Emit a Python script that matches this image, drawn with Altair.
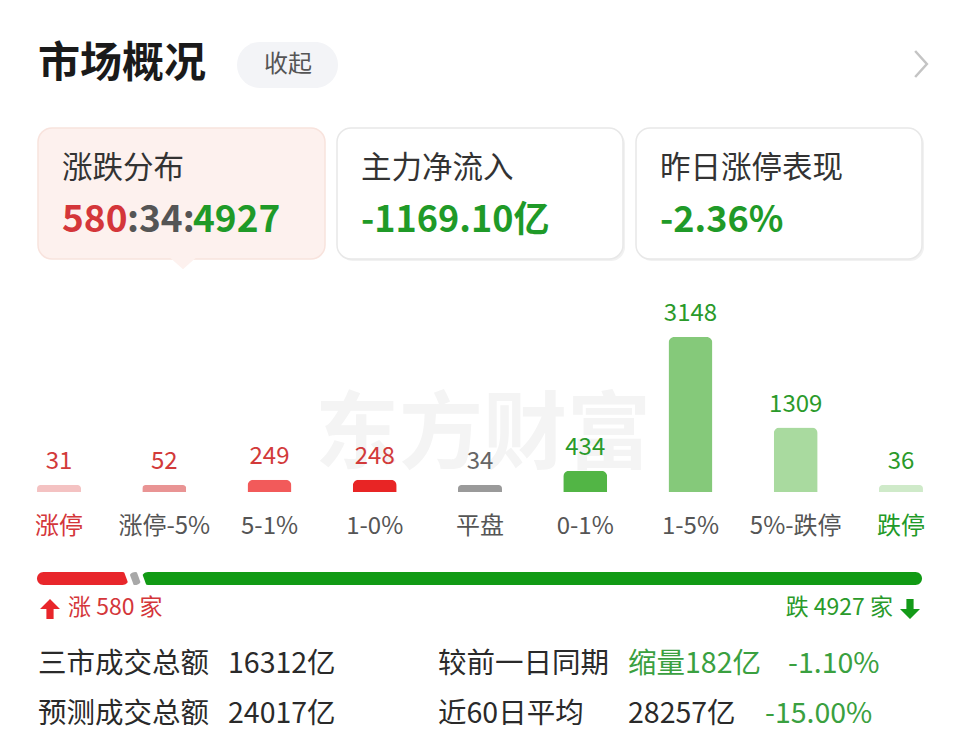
import altair as alt
import pandas as pd

# ---------------- data ----------------
CATEGORIES = ["涨停", "涨停-5%", "5-1%", "1-0%", "平盘", "0-1%", "1-5%", "5%-跌停", "跌停"]
COUNTS = [31, 52, 249, 248, 34, 434, 3148, 1309, 36]
GROUPS = ["limit_up", "up", "up", "up", "flat", "down", "down", "down", "limit_down"]

UP_COUNT = 580
FLAT_COUNT = 34
DOWN_COUNT = 4927

CARD_TITLES = ["涨跌分布", "主力净流入", "昨日涨停表现"]
NET_INFLOW = "-1169.10亿"
LIMIT_UP_PERF = "-2.36%"

SUMMARY_LABELS = ["三市成交总额", "预测成交总额"]
SUMMARY_VALUES = ["16312亿", "24017亿"]
COMPARE_LABELS = ["较前一日同期", "近60日平均"]
COMPARE_VALUES = ["缩量182亿", "28257亿"]
COMPARE_PCTS = ["-1.10%", "-15.00%"]

# ---------------- styles ----------------
FONT = "Noto Sans CJK SC"
RED = "#d4363a"
GREEN = "#1f9a28"
DARK = "#2a2a2a"
GRAY = "#555555"
BAR_COLORS = ["#f4c2c2", "#e99494", "#f25a5a", "#e82525", "#9a9a9a",
              "#52b545", "#85c97a", "#a9da9f", "#cfeac9"]


def px(v):
    return v - 8


dummy = pd.DataFrame({"k": [0]})


def text(s, x, y, size, color, weight="normal", align="left"):
    return alt.Chart(dummy).mark_text(
        font=FONT, fontSize=size, color=color, fontWeight=weight,
        align=align, baseline="middle"
    ).encode(x=alt.value(px(x)), y=alt.value(px(y)), text=alt.value(s))


def rect(x1, x2, y1, y2, fill, radius, stroke=None):
    kw = dict(fill=fill, cornerRadius=radius)
    if stroke:
        kw.update(stroke=stroke, strokeWidth=1.5)
    return alt.Chart(dummy).mark_rect(**kw).encode(
        x=alt.value(px(x1)), x2=alt.value(px(x2)),
        y=alt.value(px(y1)), y2=alt.value(px(y2)))


def symbol(path, x, y, size, color, filled=True, sw=2):
    kw = dict(shape=path, size=size, opacity=1, filled=filled, color=color)
    if not filled:
        kw.update(strokeWidth=sw)
    return alt.Chart(dummy).mark_point(**kw).encode(
        x=alt.value(px(x)), y=alt.value(px(y)))


layers = []

# header
layers.append(text("市场概况", 38, 64, 42, "#1a1a1a", weight="bold"))
layers.append(rect(237, 338, 42, 88, "#f3f4f7", 23))
layers.append(text("收起", 288, 65, 24, GRAY, align="center"))
layers.append(symbol("M-0.45,-1L0.45,0L-0.45,1", 921, 64, 676, "#c4c4c4", filled=False, sw=2.5))

# cards
layers.append(rect(339, 625, 130, 261, "#f1f1f1", 14))
layers.append(rect(638, 924, 130, 261, "#f1f1f1", 14))
layers.append(rect(38, 325, 128, 259, "#fdf1ee", 14, stroke="#f8e3dd"))
layers.append(symbol("M-1,-0.45L0,0.45L1,-0.45Z", 183, 263, 784, "#fdf1ee"))
layers.append(rect(337, 623, 128, 259, "#ffffff", 14, stroke="#e8e8e8"))
layers.append(rect(636, 922, 128, 259, "#ffffff", 14, stroke="#e8e8e8"))

for title, cx in zip(CARD_TITLES, [62, 361, 660]):
    layers.append(text(title, cx, 169, 30.5, "#333333"))

layers.append(text(str(UP_COUNT), 62, 221, 37, RED, weight="bold"))
layers.append(text(f":{FLAT_COUNT}:", 127, 221, 37, "#555555", weight="bold"))
layers.append(text(str(DOWN_COUNT), 193, 221, 37, GREEN, weight="bold"))
layers.append(text(NET_INFLOW, 361, 221, 36, GREEN, weight="bold"))
layers.append(text(LIMIT_UP_PERF, 660, 221, 36, GREEN, weight="bold"))

# watermark
layers.append(text("东方财富", 483, 437, 84, "#f4f4f4", weight="bold", align="center"))

# ---------------- bar distribution ----------------
bar_df = pd.DataFrame({"cat": CATEGORIES, "count": COUNTS, "group": GROUPS})
base = alt.Chart(bar_df).transform_calculate(disp="max(datum.count, 140)")
xenc = alt.X("cat:N", sort=CATEGORIES,
             scale=alt.Scale(domain=CATEGORIES, range=[px(6.4), px(953.6)],
                             paddingInner=0.582, paddingOuter=0.291),
             axis=None)
yenc = alt.Y("disp:Q", scale=alt.Scale(domain=[0, max(COUNTS)], range=[px(492), px(337)],
                                       nice=False, zero=True), axis=None)

bars = base.mark_bar(cornerRadiusTopLeft=6, cornerRadiusTopRight=6).encode(
    x=xenc, y=yenc,
    color=alt.Color("cat:N", scale=alt.Scale(domain=CATEGORIES, range=BAR_COLORS), legend=None))

vlabels = base.mark_text(font=FONT, fontSize=24, dy=-23, baseline="middle").encode(
    x=xenc, y=yenc, text="count:Q",
    color=alt.Color("group:N", scale=alt.Scale(
        domain=["limit_up", "up", "flat", "down", "limit_down"],
        range=["#d23a3a", "#d23a3a", "#666666", "#2a9a2a", "#2a9a2a"]), legend=None))

clabels = base.mark_text(font=FONT, fontSize=24, baseline="middle").encode(
    x=xenc, y=alt.value(px(527)), text="cat:N",
    color=alt.Color("group:N", scale=alt.Scale(
        domain=["limit_up", "up", "flat", "down", "limit_down"],
        range=[RED, GRAY, GRAY, GRAY, "#1f9a28"]), legend=None))

bar_layer = alt.layer(bars, vlabels, clabels).resolve_scale(color="independent")

# ---------------- up / flat / down proportion bar ----------------
seg_counts = [UP_COUNT, FLAT_COUNT, DOWN_COUNT]
disp_counts = [max(c, 80) for c in seg_counts]
ends = pd.Series(disp_counts).cumsum().tolist()
starts = [0] + ends[:-1]
prog_df = pd.DataFrame({"seg": ["up", "flat", "down"], "start": starts, "end": ends})
pscale = alt.Scale(domain=[0, ends[-1]], range=[px(37), px(922)], nice=False, zero=False)

prog = alt.Chart(prog_df).mark_rect(cornerRadius=6.5).encode(
    x=alt.X("start:Q", scale=pscale, axis=None), x2="end:Q",
    y=alt.value(px(572)), y2=alt.value(px(585)),
    color=alt.Color("seg:N", scale=alt.Scale(domain=["up", "flat", "down"],
                                             range=["#e8262b", "#a8a8a8", "#119a14"]),
                    legend=None))
seps = alt.Chart(prog_df).transform_filter("datum.seg != 'down'").transform_calculate(
    b1="datum.end - 22", b2="datum.end + 22"
).mark_rule(color="white", strokeWidth=4.5).encode(
    x=alt.X("b1:Q", scale=pscale, axis=None), x2="b2:Q",
    y=alt.value(px(569)), y2=alt.value(px(588)))
prog_layer = alt.layer(prog, seps)

layers.append(bar_layer)
layers.append(prog_layer)

# legend under progress bar
layers.append(symbol("M0,-1L1,0L0.36,0L0.36,1L-0.36,1L-0.36,0L-1,0Z", 50, 609, 400, "#e8262b"))
layers.append(text(f"涨 {UP_COUNT} 家", 68, 608, 23, RED))
layers.append(text(f"跌 {DOWN_COUNT} 家", 893, 608, 23, "#2a9a2a", align="right"))
layers.append(symbol("M0,1L1,0L0.36,0L0.36,-1L-0.36,-1L-0.36,0L-1,0Z", 910, 609, 400, "#149a18"))

# bottom summary
for i, y in enumerate([664, 714]):
    layers.append(text(SUMMARY_LABELS[i], 38, y, 28.5, DARK))
    layers.append(text(SUMMARY_VALUES[i], 228, y, 28.5, DARK))
    layers.append(text(COMPARE_LABELS[i], 438, y, 28.5, DARK))
layers.append(text(COMPARE_VALUES[0], 628, 664, 28.5, "#3aa040"))
layers.append(text(COMPARE_PCTS[0], 788, 664, 28.5, "#3aa040"))
layers.append(text(COMPARE_VALUES[1], 628, 714, 28.5, DARK))
layers.append(text(COMPARE_PCTS[1], 765, 714, 28.5, "#3aa040"))

chart = alt.layer(*layers).resolve_scale(
    x="independent", y="independent", color="independent"
).properties(
    width=944, height=725, padding=0, autosize=alt.AutoSizeParams(type="none"),
    background="white"
).configure_view(stroke=None)

chart.save("out.html", embed_options={"renderer": "svg", "actions": False})
